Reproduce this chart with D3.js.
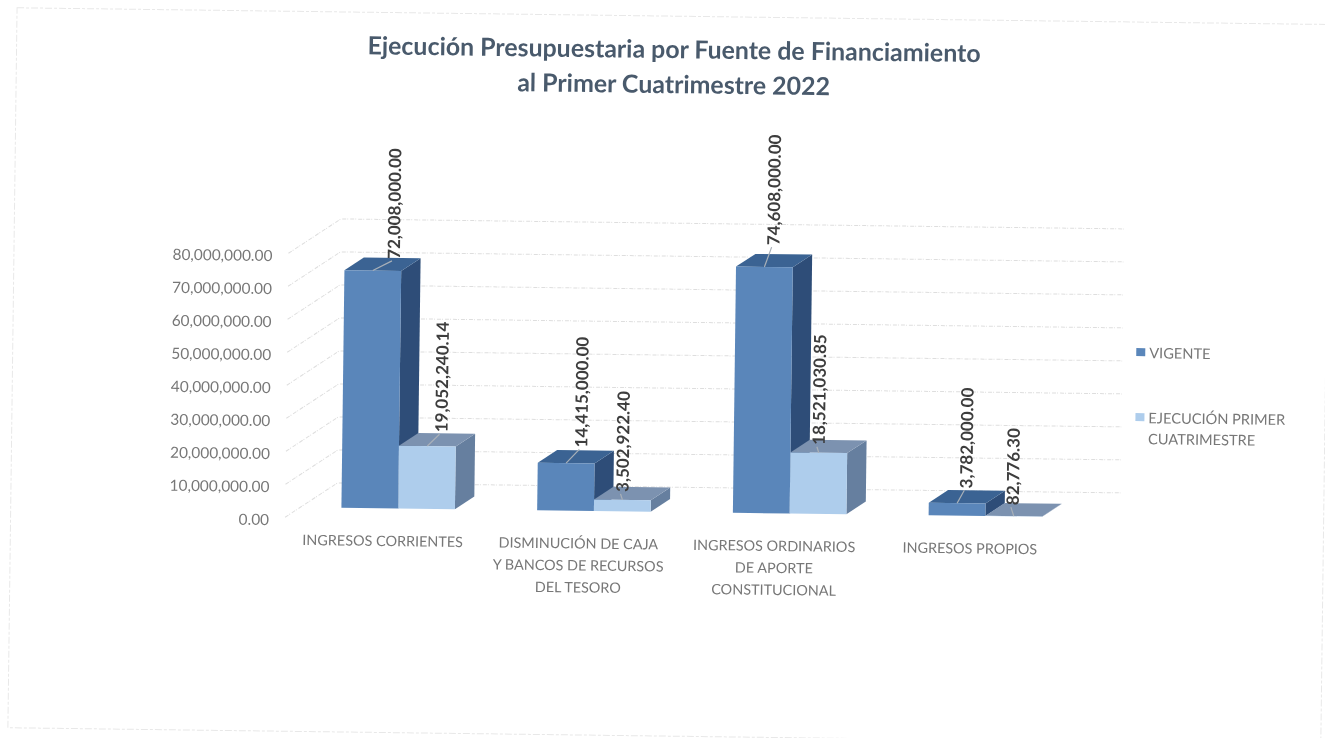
<!DOCTYPE html>
<html>
<head>
<meta charset="utf-8">
<script src="https://cdn.jsdelivr.net/npm/d3@7"></script>
<style>
  html, body { margin: 0; background: #fff; }
  text { font-family: Lato, "Open Sans", sans-serif; }
</style>
</head>
<body>
<div id="chart"></div>
<script>
// chart data
const categories = [
  ["INGRESOS CORRIENTES"],
  ["DISMINUCIÓN  DE CAJA", "Y BANCOS DE RECURSOS", "DEL TESORO"],
  ["INGRESOS ORDINARIOS", "DE APORTE", "CONSTITUCIONAL"],
  ["INGRESOS PROPIOS"]
];
const vigente = [72008000.00, 14415000.00, 74608000.00, 3782000.00];
const ejecucion = [19052240.14, 3502922.40, 18521030.85, 82776.30];
const yTicks = [0, 10000000, 20000000, 30000000, 40000000, 50000000, 60000000, 70000000, 80000000];
const titleLines = ["Ejecución Presupuestaria por Fuente de Financiamiento", "al Primer Cuatrimestre 2022"];
const legendLines = [["VIGENTE"], ["EJECUCIÓN PRIMER", "CUATRIMESTRE"]];

// svg size
const svgWidth = 1325;
const svgHeight = 738;

// the sheet was scanned a little crooked
const tilt = 0.73;

const svg = d3.select("#chart").append("svg")
  .attr("width", svgWidth)
  .attr("height", svgHeight)
  .style("display", "block");

// soften everything a little, like the scan
svg.append("defs").append("filter")
  .attr("id", "scan")
  .append("feGaussianBlur")
  .attr("stdDeviation", 0.45);

const chart = svg.append("g")
  .attr("filter", "url(#scan)")
  .append("g")
  .attr("transform", `rotate(${tilt}, 660, 370)`);

// scales
const yScale = d3.scaleLinear().domain([0, 80000000]).range([522, 258]);
const xBand = d3.scaleBand()
  .domain(d3.range(categories.length))
  .range([287, 1070])
  .paddingInner(0.42)
  .paddingOuter(0.21);
const xSeries = d3.scaleBand().domain([0, 1]).range([0, xBand.bandwidth()]);

// depth runs from the front of the floor (0) to the back wall (1)
const depthX = d3.scaleLinear().domain([0, 1]).range([0, 52]);
const depthY = d3.scaleLinear().domain([0, 1]).range([0, -35]);
const barFront = 0.29;
const barBack = 0.66;

function project(x, value, depth) {
  return [x + depthX(depth), yScale(value) + depthY(depth)];
}

const polyPath = pts => "M" + pts.map(p => p.join(",")).join("L") + "Z";

// faint chart frame left on the sheet
chart.append("rect")
  .attr("x", 12.5)
  .attr("y", 16)
  .attr("width", 1313)
  .attr("height", 720)
  .attr("fill", "none")
  .attr("stroke", "#e8e8e8")
  .attr("stroke-width", 1)
  .attr("stroke-dasharray", "7 2 3 2");

// gridlines, side wall then back wall
const grid = chart.append("g");
yTicks.forEach(t => {
  const a = project(xBand.range()[0], t, 0);
  const b = project(xBand.range()[0], t, 1);
  const c = project(xBand.range()[1], t, 1);
  grid.append("path")
    .attr("d", `M${a}L${b}L${c}`)
    .attr("fill", "none")
    .attr("stroke", "#dedede")
    .attr("stroke-width", 1)
    .attr("stroke-dasharray", "4 1 1 2");
});

// y axis labels
chart.append("g").selectAll("text")
  .data(yTicks)
  .enter()
  .append("text")
  .attr("x", 271)
  .attr("y", d => yScale(d) + 8)
  .attr("text-anchor", "end")
  .attr("font-size", 15.4)
  .attr("fill", "#777")
  .text(d => d3.format(",.2f")(d));

// one 3d bar
const seriesStyle = [
  { front: "#5a86ba", top: "#3a6393", side: "#2f4e78" },
  { front: "#aecdec", top: "#7c92b0", side: "#667f9f" }
];

function drawBar(i, s, value) {
  const x0 = xBand(i) + xSeries(s);
  const x1 = x0 + xSeries.bandwidth();
  const st = seriesStyle[s];
  const g = chart.append("g");
  g.append("path")
    .attr("d", polyPath([project(x1, 0, barFront), project(x1, 0, barBack), project(x1, value, barBack), project(x1, value, barFront)]))
    .attr("fill", st.side);
  g.append("path")
    .attr("d", polyPath([project(x0, value, barFront), project(x1, value, barFront), project(x1, value, barBack), project(x0, value, barBack)]))
    .attr("fill", st.top);
  g.append("path")
    .attr("d", polyPath([project(x0, 0, barFront), project(x1, 0, barFront), project(x1, value, barFront), project(x0, value, barFront)]))
    .attr("fill", st.front);
}

// back to front, left to right
categories.forEach((c, i) => {
  drawBar(i, 0, vigente[i]);
  drawBar(i, 1, ejecucion[i]);
});

// data labels: sideways numbers with a small leader line
const labelNudgeX = [[21, 14], [15, 0], [9, 0], [9, -1]];
const labelNudgeY = [[1, -1], [-3, 5], [-9, 5], [-2, 2]];

function drawLabel(i, s, value) {
  const xMid = xBand(i) + xSeries(s) + xSeries.bandwidth() / 2;
  const top = project(xMid, value, barFront);
  const back = project(xMid, value, barBack);
  const lx = top[0] + labelNudgeX[i][s];
  const ly = back[1] + labelNudgeY[i][s];
  chart.append("line")
    .attr("x1", top[0])
    .attr("y1", top[1])
    .attr("x2", lx - 2)
    .attr("y2", ly + 2)
    .attr("stroke", "#a9b0b8")
    .attr("stroke-width", 1.2);
  chart.append("text")
    .attr("transform", `translate(${lx}, ${ly}) rotate(-90)`)
    .attr("dy", "0.35em")
    .attr("font-size", 17)
    .attr("font-weight", 700)
    .attr("fill", "#3d3d3d")
    .text(d3.format(",.2f")(value));
}

categories.forEach((c, i) => {
  drawLabel(i, 0, vigente[i]);
  drawLabel(i, 1, ejecucion[i]);
});

// category labels
categories.forEach((lines, i) => {
  chart.append("text")
    .attr("text-anchor", "middle")
    .attr("font-size", 14.4)
    .attr("fill", "#777")
    .selectAll("tspan")
    .data(lines)
    .enter()
    .append("tspan")
    .attr("x", xBand(i) + xBand.bandwidth() / 2)
    .attr("y", (d, k) => 549.5 + k * 22)
    .text(d => d);
});

// title
chart.append("text")
  .attr("text-anchor", "middle")
  .attr("font-size", 24.9)
  .attr("font-weight", 700)
  .attr("fill", "#4a5a6c")
  .selectAll("tspan")
  .data(titleLines)
  .enter()
  .append("tspan")
  .attr("x", 670)
  .attr("y", (d, k) => 58 + k * 35)
  .text(d => d);

// legend
const legendY = [346, 411];
legendLines.forEach((lines, s) => {
  chart.append("rect")
    .attr("x", 1136)
    .attr("y", legendY[s] - 4)
    .attr("width", 9)
    .attr("height", 8)
    .attr("fill", seriesStyle[s].front);
  chart.append("text")
    .attr("font-size", 14.6)
    .attr("fill", "#777")
    .selectAll("tspan")
    .data(lines)
    .enter()
    .append("tspan")
    .attr("x", 1149)
    .attr("y", (d, k) => legendY[s] + 6 + k * 21)
    .text(d => d);
});
</script>
</body>
</html>
